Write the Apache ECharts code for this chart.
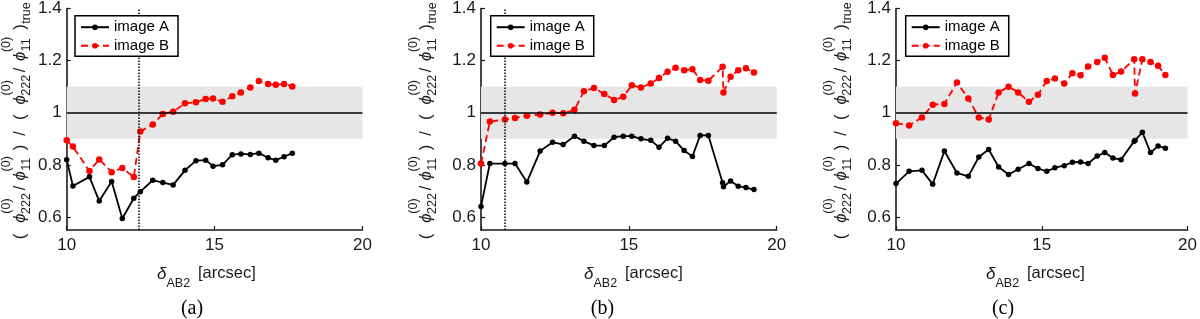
<!DOCTYPE html>
<html><head><meta charset="utf-8">
<script src="https://cdn.jsdelivr.net/npm/echarts@6/dist/echarts.min.js"></script>
<style>html,body{margin:0;padding:0;background:#fff}#c{width:1200px;height:319px}</style>
</head><body><div id="c"></div>
<script>
// ---- data ----
const xTicks = [10, 15, 20];
const yTicks = [0.6, 0.8, 1, 1.2, 1.4];
const captions = ['(a)', '(b)', '(c)'];
const seriesNames = ['image A', 'image B'];
const bandRange = [0.9, 1.1];
const refValue = 1;
const markerX = [12.43, 10.82, null];

const xA = [10, 10.21, 10.77, 11.1, 11.52, 11.88, 12.27, 12.49, 12.91, 13.25, 13.6, 14.0, 14.37, 14.7, 14.95, 15.27, 15.6, 15.89, 16.21, 16.5, 16.81, 17.07, 17.35, 17.63];
const aImgA = [0.82, 0.719, 0.754, 0.661, 0.736, 0.594, 0.672, 0.697, 0.741, 0.732, 0.723, 0.779, 0.816, 0.818, 0.795, 0.80, 0.839, 0.842, 0.840, 0.845, 0.827, 0.818, 0.831, 0.845];
const aImgB = [0.894, 0.870, 0.776, 0.821, 0.772, 0.788, 0.753, 0.928, 0.955, 0.995, 1.004, 1.036, 1.040, 1.053, 1.055, 1.042, 1.063, 1.078, 1.097, 1.122, 1.110, 1.107, 1.110, 1.101];

const xB = [10, 10.3, 10.81, 11.15, 11.55, 12.0, 12.42, 12.78, 13.16, 13.48, 13.82, 14.17, 14.5, 14.81, 15.1, 15.41, 15.74, 16.02, 16.31, 16.58, 16.87, 17.15, 17.41, 17.69, 18.17, 18.2, 18.44, 18.7, 18.96, 19.23];
const bImgA = [0.64, 0.805, 0.805, 0.805, 0.734, 0.853, 0.887, 0.878, 0.91, 0.891, 0.874, 0.874, 0.906, 0.91, 0.91, 0.90, 0.894, 0.868, 0.902, 0.891, 0.855, 0.832, 0.913, 0.913, 0.731, 0.716, 0.738, 0.718, 0.713, 0.705];
const bImgB = [0.805, 0.966, 0.974, 0.980, 0.988, 0.993, 1.0, 0.998, 1.011, 1.082, 1.095, 1.072, 1.049, 1.061, 1.105, 1.097, 1.112, 1.133, 1.157, 1.173, 1.163, 1.167, 1.126, 1.123, 1.176, 1.078, 1.138, 1.163, 1.171, 1.154];

const xC = [10, 10.45, 10.89, 11.26, 11.66, 12.09, 12.48, 12.84, 13.18, 13.52, 13.86, 14.19, 14.56, 14.87, 15.17, 15.45, 15.77, 16.05, 16.33, 16.59, 16.9, 17.16, 17.44, 17.72, 18.17, 18.2, 18.45, 18.73, 18.99, 19.24];
const cImgA = [0.728, 0.775, 0.779, 0.726, 0.853, 0.769, 0.756, 0.83, 0.859, 0.792, 0.763, 0.783, 0.805, 0.786, 0.775, 0.789, 0.797, 0.81, 0.811, 0.805, 0.834, 0.847, 0.826, 0.82, 0.891, 0.893, 0.925, 0.847, 0.872, 0.864];
const cImgB = [0.96, 0.951, 0.982, 1.031, 1.034, 1.116, 1.055, 0.982, 0.974, 1.078, 1.10, 1.078, 1.042, 1.069, 1.122, 1.131, 1.112, 1.152, 1.144, 1.177, 1.195, 1.211, 1.145, 1.158, 1.205, 1.074, 1.205, 1.195, 1.18, 1.145];

// ---- layout ----
const FF = "'Liberation Sans', Arial, Helvetica, sans-serif";
const AX = '#1a1a1a';
const panels = [
  {x: xA, a: aImgA, b: aImgB, left: 66.7, legendLeft: 75, ylabX: 20, titleX: 157, capX: 192},
  {x: xB, a: bImgA, b: bImgB, left: 481, legendLeft: 490.7, ylabX: 426.5, titleX: 584, capX: 602.5},
  {x: xC, a: cImgA, b: cImgB, left: 896, legendLeft: 905.7, ylabX: 841.5, titleX: 986, capX: 1003}
];
const gridTop = 7.3, gridH = 222.7, gridW = 295.7;

function yLabelGroup(ox) {
  const S = 16.5, s = 12.5, up = -13, dn = 6.5;
  const P = [
    ['(', 3.5, 0, S], ['\u03d5', 21.9, 0, S, 1], ['(0)', 33.9, up, s], ['222', 36.4, dn, s],
    ['/', 52, 0, S], ['\u03d5', 64.2, 0, S, 1], ['(0)', 76.2, up, s], ['11', 75.7, dn, s],
    [')', 92.4, 0, S], ['/', 106.5, 0, S],
    ['(', 122.8, 0, S], ['\u03d5', 140.2, 0, S, 1], ['(0)', 152.2, up, s], ['222', 154.7, dn, s],
    ['/', 170, 0, S], ['\u03d5', 183.6, 0, S, 1], ['(0)', 195.6, up, s], ['11', 195.1, dn, s],
    [')', 212.9, 0, S], ['true', 227, dn, s]
  ];
  return {
    type: 'group', x: ox, y: 240, rotation: Math.PI / 2, silent: true,
    children: P.map(p => ({
      type: 'text', x: p[1], y: p[2],
      style: {text: p[0], fontSize: p[3], fontFamily: FF, fontStyle: p[4] ? 'italic' : 'normal',
              fill: AX, align: 'center', verticalAlign: 'middle'}
    }))
  };
}

const grid = [], xAxis = [], yAxis = [], series = [], legend = [], graphic = [];
panels.forEach((p, i) => {
  grid.push({left: p.left, top: gridTop, width: gridW, height: gridH, containLabel: false});
  xAxis.push({
    type: 'value', gridIndex: i, min: xTicks[0], max: xTicks[xTicks.length - 1], interval: xTicks[1] - xTicks[0],
    axisLine: {show: true, onZero: false, lineStyle: {color: AX, width: 1.6}},
    axisTick: {show: true, inside: true, length: 4, lineStyle: {color: AX, width: 1.2}},
    axisLabel: {color: AX, fontSize: 17, fontFamily: FF, margin: 7},
    splitLine: {show: false}
  });
  yAxis.push({
    type: 'value', gridIndex: i, min: 0.55, max: 1.4,
    axisLine: {show: true, onZero: false, lineStyle: {color: AX, width: 1.6}},
    axisTick: {show: true, inside: true, length: 4, customValues: yTicks, lineStyle: {color: AX, width: 1.2}},
    axisLabel: {color: AX, fontSize: 17, fontFamily: FF, margin: 5, customValues: yTicks},
    splitLine: {show: false}
  });
  const mlData = [{yAxis: refValue, lineStyle: {color: '#000', width: 1.5, type: 'solid'}}];
  if (markerX[i] !== null) mlData.push({xAxis: markerX[i], lineStyle: {color: '#000', width: 1.5, type: [1.5, 1.5]}});
  series.push({
    type: 'line', xAxisIndex: i, yAxisIndex: i, data: [], silent: true, z: 1, animation: false,
    markArea: {silent: true, itemStyle: {color: '#e6e6e6'},
      data: [[{xAxis: xTicks[0], yAxis: bandRange[0]}, {xAxis: xTicks[xTicks.length - 1], yAxis: bandRange[1]}]]},
    markLine: {silent: true, symbol: 'none', label: {show: false}, animation: false, data: mlData}
  });
  series.push({
    name: seriesNames[0], type: 'line', xAxisIndex: i, yAxisIndex: i, z: 3, animation: false,
    data: p.x.map((v, k) => [v, p.a[k]]), symbol: 'circle', symbolSize: 5.5,
    lineStyle: {color: '#000', width: 1.8}, itemStyle: {color: '#000'}
  });
  series.push({
    name: seriesNames[1], type: 'line', xAxisIndex: i, yAxisIndex: i, z: 3, animation: false,
    data: p.x.map((v, k) => [v, p.b[k]]), symbol: 'circle', symbolSize: 6.5,
    lineStyle: {color: '#ff0000', width: 1.8, type: [7, 4]}, itemStyle: {color: '#ff0000'}
  });
  legend.push({
    data: seriesNames, orient: 'vertical', left: p.legendLeft, top: 15.7,
    padding: [3, 9, 2, 5], itemWidth: 28, itemHeight: 7, itemGap: 1.5,
    backgroundColor: '#fff', borderColor: '#000', borderWidth: 1.5, borderRadius: 0,
    selectedMode: false, z: 10,
    textStyle: {fontSize: 15, color: '#000', fontFamily: FF, lineHeight: 17}
  });
  graphic.push(yLabelGroup(p.ylabX));
  graphic.push({type: 'text', x: p.titleX, y: 274, silent: true,
    style: {text: '\u03b4', fontSize: 17, fontStyle: 'italic', fontFamily: FF, fill: AX, align: 'left', verticalAlign: 'middle'}});
  graphic.push({type: 'text', x: p.titleX + 9.5, y: 283.5, silent: true,
    style: {text: 'AB2', fontSize: 12.5, fontFamily: FF, fill: AX, align: 'left', verticalAlign: 'middle'}});
  graphic.push({type: 'text', x: p.titleX + 41, y: 273, silent: true,
    style: {text: '[arcsec]', fontSize: 16.5, fontFamily: FF, fill: AX, align: 'left', verticalAlign: 'middle'}});
  graphic.push({type: 'text', x: p.capX, y: 309, silent: true,
    style: {text: captions[i], fontSize: 20, fontFamily: "'Liberation Serif', 'Times New Roman', serif", fill: '#000', align: 'center', verticalAlign: 'middle'}});
});

const chart = echarts.init(document.getElementById('c'), null, {renderer: 'canvas'});
chart.setOption({animation: false, backgroundColor: '#fff', grid, xAxis, yAxis, series, legend, graphic});
</script>
</body></html>
